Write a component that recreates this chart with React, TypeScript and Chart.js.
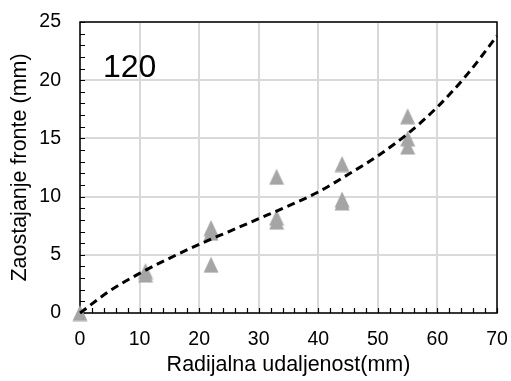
import React, { useEffect, useRef } from "react";
import { Chart, registerables } from "chart.js";

Chart.register(...registerables);

// Measured points (triangles)
const measuredX = [0, 11, 11, 22, 22, 22, 33, 33, 33, 44, 44, 44, 55, 55, 55];
const measuredY = [0, 3.6, 3.3, 7.3, 6.9, 4.15, 11.7, 8.2, 7.85, 12.8, 9.75, 9.5, 16.9, 15.0, 14.3];

// Dashed trend curve
const trendX = [0, 5, 10, 15, 20, 25, 30, 35, 40, 45, 50, 55, 60, 65, 70];
const trendY = [0, 1.9, 3.4, 4.7, 5.9, 7.0, 8.1, 9.2, 10.4, 11.9, 13.5, 15.4, 17.7, 20.5, 23.8];

const xTicks = [0, 10, 20, 30, 40, 50, 60, 70];
const yTicks = [0, 5, 10, 15, 20, 25];
const xMinorStep = 2;
const yMinorStep = 1;

const panelLabel = "120";
const xTitle = "Radijalna udaljenost(mm)";
const yTitle = "Zaostajanje fronte (mm)";

const FONT = "'Liberation Sans', Arial, sans-serif";

function makeTriangle(): HTMLCanvasElement {
  const c = document.createElement("canvas");
  c.width = 16;
  c.height = 17;
  const g = c.getContext("2d")!;
  g.fillStyle = "#a5a5a5";
  g.beginPath();
  g.moveTo(8, 0.5);
  g.lineTo(15.5, 16.5);
  g.lineTo(0.5, 16.5);
  g.closePath();
  g.fill();
  return c;
}

const framePlugin = {
  id: "frame",
  beforeDatasetsDraw(chart: any) {
    const { ctx, chartArea, scales } = chart;
    const { left, right, top, bottom } = chartArea;
    const xs = scales.x;
    const ys = scales.y;
    ctx.save();
    ctx.strokeStyle = "#000";
    ctx.lineWidth = 1.5;
    ctx.strokeRect(left, top, right - left, bottom - top);
    ctx.lineWidth = 1.2;
    ctx.beginPath();
    const tl = 5;
    for (let v = xs.min; v <= xs.max + 1e-9; v += xMinorStep) {
      const px = Math.round(xs.getPixelForValue(v)) + 0.5;
      ctx.moveTo(px, bottom);
      ctx.lineTo(px, bottom - tl);
    }
    for (let v = ys.min; v <= ys.max + 1e-9; v += yMinorStep) {
      const py = Math.round(ys.getPixelForValue(v)) + 0.5;
      ctx.moveTo(left, py);
      ctx.lineTo(left + tl, py);
    }
    ctx.stroke();
    ctx.fillStyle = "#000";
    ctx.font = `32px ${FONT}`;
    ctx.textAlign = "left";
    ctx.textBaseline = "alphabetic";
    ctx.fillText(panelLabel, 103, 77);
    ctx.restore();
  },
};

export default function App() {
  const ref = useRef<HTMLCanvasElement | null>(null);
  useEffect(() => {
    if (!ref.current) return;
    const tri = makeTriangle();
    const chart = new Chart(ref.current, {
      type: "scatter",
      data: {
        datasets: [
          {
            type: "line",
            label: "trend",
            data: trendX.map((x, i) => ({ x, y: trendY[i] })),
            borderColor: "#000",
            borderWidth: 3,
            borderDash: [8, 5],
            pointRadius: 0,
            fill: false,
            cubicInterpolationMode: "monotone",
            order: 0,
            clip: false as any,
          } as any,
          {
            type: "scatter",
            label: "measured",
            data: measuredX.map((x, i) => ({ x, y: measuredY[i] })),
            pointStyle: tri as any,
            pointRadius: 8,
            backgroundColor: "#a5a5a5",
            borderColor: "#a5a5a5",
            order: 1,
            clip: false as any,
          } as any,
        ],
      },
      options: {
        responsive: false,
        animation: false,
        devicePixelRatio: 1,
        layout: { padding: { left: 0, right: 14, top: 22, bottom: 0 } },
        plugins: { legend: { display: false }, tooltip: { enabled: false } },
        scales: {
          x: {
            type: "linear",
            min: 0,
            max: 70,
            afterFit: (s: any) => {
              s.height = 68;
              s.paddingLeft = 0;
              s.paddingRight = 0;
            },
            afterBuildTicks: (s: any) => {
              s.ticks = xTicks.map((v) => ({ value: v }));
            },
            ticks: {
              color: "#000",
              font: { family: FONT, size: 19.5 },
              padding: 15,
              maxRotation: 0,
            },
            grid: { color: "#d9d9d9", lineWidth: 2, drawTicks: false },
            border: { display: false },
            title: {
              display: true,
              text: xTitle,
              color: "#000",
              font: { family: FONT, size: 21.5 },
              padding: { top: 0, bottom: 3 },
            },
          },
          y: {
            type: "linear",
            min: 0,
            max: 25,
            afterFit: (s: any) => {
              s.width = 80;
              s.paddingTop = 0;
              s.paddingBottom = 0;
            },
            afterBuildTicks: (s: any) => {
              s.ticks = yTicks.map((v) => ({ value: v }));
            },
            ticks: {
              color: "#000",
              font: { family: FONT, size: 19.5 },
              padding: 19,
            },
            grid: { color: "#d9d9d9", lineWidth: 2, drawTicks: false },
            border: { display: false },
            title: {
              display: true,
              text: yTitle,
              color: "#000",
              font: { family: FONT, size: 21.5 },
              padding: { top: 7, bottom: 0 },
            },
          },
        },
      },
      plugins: [framePlugin],
    });
    return () => chart.destroy();
  }, []);
  return (
    <div style={{ position: "fixed", left: 0, top: 0, width: 511, height: 381, background: "#fff" }}>
      <canvas ref={ref} width={511} height={381} />
    </div>
  );
}
